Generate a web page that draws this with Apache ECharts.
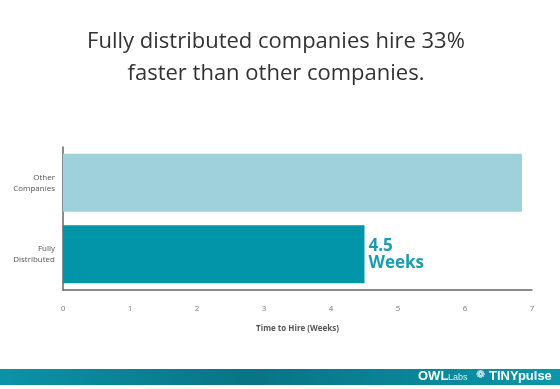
<!DOCTYPE html>
<html><head><meta charset="utf-8">
<script src="https://cdn.jsdelivr.net/npm/echarts@6/dist/echarts.min.js"></script>
<style>html,body{margin:0;padding:0;background:#fff}#c{width:560px;height:389px}</style>
</head><body><div id="c"></div>
<script>
const titleLines = ['Fully distributed companies hire 33%', 'faster than other companies.'];
const categories = ['Fully\nDistributed', 'Other\nCompanies'];
const values = [4.5, 6.85];
const barColors = ['#0295aa', '#9ed1dc'];
const xTicks = [0, 1, 2, 3, 4, 5, 6, 7];
const xAxisName = 'Time to Hire (Weeks)';
const highlightLabel = '4.5\nWeeks';

const chart = echarts.init(document.getElementById('c'), null, {renderer: 'canvas'});
chart.setOption({
  animation: false,
  title: {
    text: titleLines.join('\n'),
    left: 271, top: 21, textAlign: 'center',
    textStyle: {fontFamily: 'Open Sans', fontWeight: 400, fontSize: 22, color: '#333', lineHeight: 32, align: 'center'}
  },
  grid: {left: 63, right: 28, top: 147, bottom: 99, containLabel: false},
  xAxis: {
    type: 'value', min: xTicks[0], max: xTicks[xTicks.length - 1], interval: 1,
    name: xAxisName, nameLocation: 'middle', nameGap: 35,
    nameTextStyle: {fontFamily: 'Open Sans', fontSize: 8, fontWeight: 'bold', color: '#555'},
    axisLine: {show: true, lineStyle: {color: '#666', width: 1.5}},
    axisTick: {show: false},
    splitLine: {show: false},
    axisLabel: {margin: 15, fontFamily: 'Open Sans', fontSize: 8, color: '#777'}
  },
  yAxis: {
    type: 'category', data: categories,
    axisLine: {show: true, lineStyle: {color: '#666', width: 1.5}},
    axisTick: {show: false},
    axisLabel: {margin: 8, fontFamily: 'Open Sans', fontSize: 8, color: '#555', align: 'right', lineHeight: 11}
  },
  series: [{
    type: 'bar', barWidth: 58,
    data: values.map((v, i) => ({
      value: v,
      itemStyle: {color: barColors[i]},
      label: i === 0 ? {
        show: true, position: 'right', distance: 4, formatter: highlightLabel,
        fontFamily: 'Open Sans', fontWeight: 'bold', fontSize: 17, lineHeight: 17, color: '#1a9db3'
      } : {show: false}
    }))
  }],
  graphic: [
    {type: 'rect', left: 0, top: 369, shape: {width: 560, height: 16},
     style: {fill: new echarts.graphic.LinearGradient(0, 0, 1, 0, [
       {offset: 0, color: '#0a93a6'}, {offset: 0.45, color: '#087485'}, {offset: 1, color: '#0a96a9'}])}},
    {type: 'text', left: 418, top: 370, style: {text: 'OWL', fill: '#fff', font: 'bold 13px "Liberation Sans"'}},
    {type: 'text', left: 448, top: 373, style: {text: 'Labs', fill: '#d8eef2', font: '9px "Liberation Sans"'}},
    {type: 'text', left: 476, top: 370, style: {text: '❁', fill: '#fff', font: 'bold 11px "DejaVu Sans"'}},
    {type: 'text', left: 489, top: 370, style: {text: 'TINYpulse', fill: '#fff', font: 'bold 13px "Liberation Sans"'}}
  ]
});
</script></body></html>
